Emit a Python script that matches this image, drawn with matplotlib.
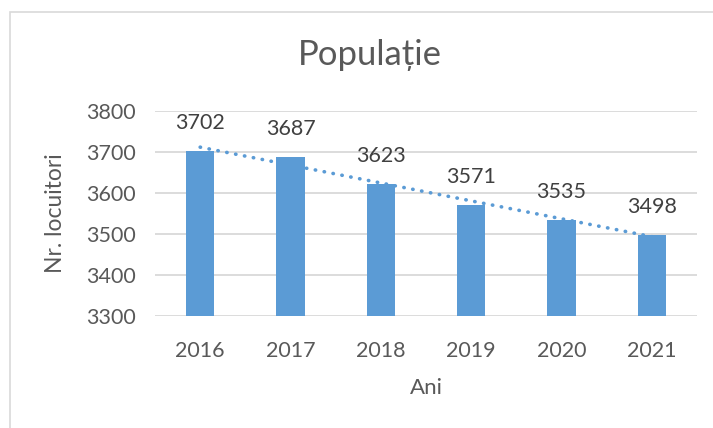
"""Populatie bar chart with linear trendline, Excel style."""

import matplotlib
matplotlib.use("Agg")
import matplotlib.pyplot as plt
import numpy as np
from matplotlib.patches import Rectangle

YEARS = ["2016", "2017", "2018", "2019", "2020", "2021"]
POPULATION = [3702, 3687, 3623, 3571, 3535, 3498]
Y_TICKS = [3300, 3400, 3500, 3600, 3700, 3800]

BAR_COLOR = "#5B9BD5"
TEXT_COLOR = "#595959"
GRID_COLOR = "#D9D9D9"

plt.rcParams["font.family"] = ["Lato", "DejaVu Sans"]

fig = plt.figure(figsize=(7.13, 4.28), dpi=100)
ax = fig.add_axes([155 / 713, 1 - 316 / 428, 542 / 713, 205 / 428])

x = np.arange(len(YEARS))
ax.bar(x, POPULATION, width=0.31, color=BAR_COLOR, zorder=2)

for xi, v in zip(x, POPULATION):
    ax.annotate(str(v), (xi, v), xytext=(0, 13), textcoords="offset points",
                ha="center", va="bottom", fontsize=15.5, color="#404040")

# linear trendline as Excel draws it
coef = np.polyfit(x, POPULATION, 1)
ax.plot(x, np.polyval(coef, x), linestyle=(0, (0.1, 2.4)), linewidth=2.6,
        color=BAR_COLOR, zorder=3, dash_capstyle="round")

ax.set_xlim(-0.5, len(YEARS) - 0.5)
ax.set_ylim(3300, 3800)
ax.set_yticks(Y_TICKS)
ax.set_xticks(x)
ax.set_xticklabels(YEARS)
ax.tick_params(length=0, labelsize=15.5, colors=TEXT_COLOR)
ax.tick_params(axis="x", pad=18)
ax.tick_params(axis="y", pad=14)
ax.grid(axis="y", color=GRID_COLOR, linewidth=1.3, zorder=0)
for s in ax.spines.values():
    s.set_visible(False)

ax.set_xlabel("Ani", fontsize=16, color=TEXT_COLOR, labelpad=12)
ax.set_ylabel("Nr. locuitori", fontsize=16.5, color=TEXT_COLOR, labelpad=14)
fig.text(370 / 713, 1 - 55 / 428, "Populație", ha="center", va="center",
         fontsize=25, color=TEXT_COLOR)

fig.patches.append(Rectangle((10 / 713, -0.1), 1.1, 1 - 12 / 428 + 0.1,
                             transform=fig.transFigure, fill=False,
                             edgecolor="#D9D9D9", linewidth=1.2))

fig.savefig("out.png", dpi=100)
